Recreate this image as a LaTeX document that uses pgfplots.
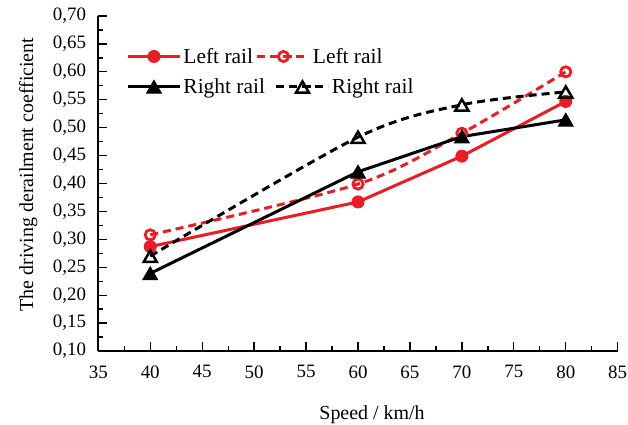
\documentclass[border=0pt]{standalone}
\usepackage{pgfplots}
\pgfplotsset{compat=1.18}
\usepackage{fontspec}
\setmainfont{Liberation Serif}
\definecolor{railred}{RGB}{237,28,36}
% legend keys: a 52bp line with the mark in its middle
\pgfplotsset{
  railkey/.style={legend image code/.code={%
    \draw[mark repeat=2, mark phase=2, ##1]
      plot coordinates {(0bp,0bp) (26bp,0bp) (52bp,0bp)};}},
  railkeyshifted/.style={legend image code/.code={%
    \draw[mark repeat=2, mark phase=2, ##1]
      plot coordinates {(-19bp,0bp) (7bp,0bp) (33bp,0bp)};}},
}

\begin{document}
\begin{tikzpicture}
\useasboundingbox (0,0) rectangle (628bp,425bp);
\begin{axis}[
  at={(98.3bp,74bp)}, anchor=south west,
  scale only axis, width=519.4bp, height=335bp,
  xmin=35, xmax=85, ymin=0.1, ymax=0.7,
  xtick={35,40,...,85},
  ytick={0.10,0.15,0.20,0.25,0.30,0.35,0.40,0.45,0.50,0.55,0.60,0.65,0.70},
  minor x tick num=1, minor y tick num=1,
  axis lines=left,
  axis line style={-, line width=2.3bp},
  tick align=inside,
  major tick length=9bp, minor tick length=5bp,
  every tick/.style={black, line width=1.3bp},
  /pgf/number format/assume math mode=true,
  tick label style={font=\fontsize{19}{22}\selectfont},
  yticklabel style={/pgf/number format/fixed, /pgf/number format/fixed zerofill,
    /pgf/number format/precision=2, /pgf/number format/use comma, xshift=-8.7bp},
  xticklabel style={yshift=-11bp},
  xlabel={Speed / km/h},
  xlabel style={at={(axis description cs:0.527,-0.203)}, anchor=base,
    font=\fontsize{20}{24}\selectfont},
  ylabel={The driving derailment coefficient},
  ylabel style={at={(axis description cs:-0.1257,0.527)}, anchor=base, rotate=0,
    font=\fontsize{20}{24}\selectfont},
  clip=false,
  legend columns=2,
  legend cell align=left,
  legend style={draw=none, fill=none, font=\fontsize{21.5}{24}\selectfont,
    at={(axis description cs:0.0,1)}, anchor=north west,
    xshift=25bp, yshift=-28bp, row sep=10bp,
    /tikz/every even column/.append style={column sep=-11bp}},
  railkey,
]
% left rail, solid
\addplot[railred, line width=3bp, mark=*, mark size=6bp,
  mark options={solid, line width=1bp}]
  coordinates {(40,0.287) (60,0.367) (70,0.449) (80,0.547)};
\addlegendentry{Left rail}
% left rail, dashed; its key sits closer to the first entry
\addplot[railred, line width=3bp, dash pattern=on 8bp off 5bp, smooth, tension=0.5,
  mark=o, mark size=5.1bp, mark options={solid, line width=2.8bp, fill=white},
  railkeyshifted]
  coordinates {(40,0.308) (60,0.399) (70,0.490) (80,0.600)};
\addlegendentry{\hspace*{-19bp}Left rail}
% right rail, solid
\addplot[black, line width=3bp, mark=triangle*, mark size=8.5bp,
  mark options={solid, line width=1bp, yshift=-2bp}]
  coordinates {(40,0.239) (60,0.421) (70,0.484) (80,0.514)};
\addlegendentry{Right rail}
% right rail, dashed
\addplot[black, line width=3bp, dash pattern=on 8bp off 5bp, smooth, tension=0.5,
  mark=triangle, mark size=7.5bp,
  mark options={solid, line width=2.5bp, fill=white, yshift=-2bp}]
  coordinates {(40,0.270) (60,0.483) (70,0.541) (80,0.564)};
\addlegendentry{Right rail}
\end{axis}
\end{tikzpicture}
\end{document}
